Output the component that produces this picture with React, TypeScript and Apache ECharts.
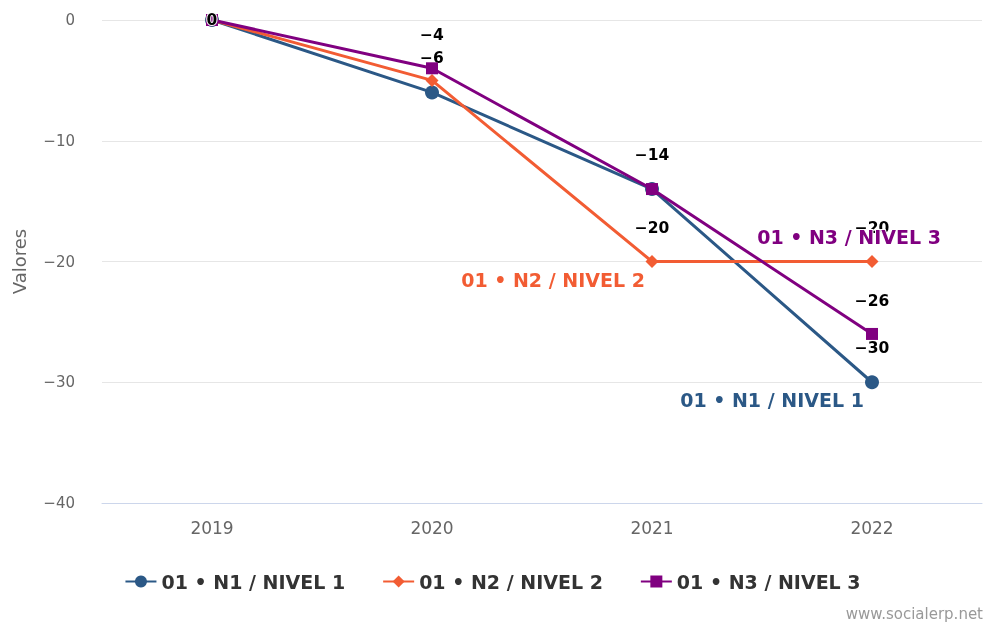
import React, { useEffect, useRef } from "react";
import * as echarts from "echarts";

const categories = ["2019", "2020", "2021", "2022"];
const seriesNames = ["01 • N1 / NIVEL 1", "01 • N2 / NIVEL 2", "01 • N3 / NIVEL 3"];
const n1Values = [0, -6, -14, -30];
const n2Values = [0, -5, -20, -20];
const n3Values = [0, -4, -14, -26];
const yTicks = { min: -40, max: 0, interval: 10 };

const COLORS = ["#2b5886", "#f25c33", "#800080"];
const SYMBOLS = ["circle", "diamond", "rect"];
const SIZES = [14, 13, 12];
// which data labels are visible (others overlap in the original)
const LABEL_SHOWN = [
  [false, true, true, true],
  [false, false, true, true],
  [true, true, false, true],
];
// series-name label anchors: point index and offset
const NAME_ANCHOR = [
  { idx: 3, offset: [-100, 18] },
  { idx: 2, offset: [-99, 18] },
  { idx: 3, offset: [-23, -97] },
];

const FONT = "DejaVu Sans, Verdana, sans-serif";
const minus = (v: number | string) => String(v).replace("-", "\u2212");

export default function App() {
  const ref = useRef<HTMLDivElement>(null);
  useEffect(() => {
    if (!ref.current) return;
    const chart = echarts.init(ref.current, null, { renderer: "svg" });
    const all = [n1Values, n2Values, n3Values];
    const series = all.map((vals, s) => ({
      name: seriesNames[s],
      type: "line",
      symbol: SYMBOLS[s],
      symbolSize: SIZES[s],
      showAllSymbol: true,
      lineStyle: { width: 3, color: COLORS[s] },
      itemStyle: { color: COLORS[s] },
      z: 2 + s,
      labelLayout: { hideOverlap: false },
      data: vals.map((v, i) => ({
        value: v,
        label: {
          show: LABEL_SHOWN[s][i],
          position: i === 0 ? "inside" : "top",
          distance: 19,
          formatter: (p: any) => minus(p.value),
          color: "#000",
          fontWeight: "bold",
          fontSize: 15.5,
          fontFamily: FONT,
          textBorderColor: "#fff",
          textBorderWidth: 2,
        },
      })),
      markPoint: {
        symbol: "circle",
        symbolSize: 0,
        silent: true,
        data: [
          {
            coord: [categories[NAME_ANCHOR[s].idx], vals[NAME_ANCHOR[s].idx]],
            label: {
              show: true,
              position: "inside",
              offset: NAME_ANCHOR[s].offset,
              formatter: seriesNames[s],
              color: COLORS[s],
              fontWeight: "bold",
              fontSize: 19,
              fontFamily: FONT,
              textBorderColor: "#fff",
              textBorderWidth: 2,
            },
          },
        ],
      },
    }));
    chart.setOption({
      animation: false,
      textStyle: { fontFamily: FONT },
      grid: { left: 102, right: 3, top: 20, bottom: 119, containLabel: false },
      xAxis: {
        type: "category",
        data: categories,
        boundaryGap: true,
        axisLine: { onZero: false, lineStyle: { color: "#ccd6eb", width: 1 } },
        axisTick: { show: false },
        axisLabel: { color: "#666", fontSize: 17, margin: 16, fontFamily: FONT },
      },
      yAxis: {
        type: "value",
        min: yTicks.min,
        max: yTicks.max,
        interval: yTicks.interval,
        name: "Valores",
        nameLocation: "middle",
        nameGap: 74,
        nameTextStyle: { color: "#666", fontSize: 18, fontFamily: FONT },
        axisLine: { show: false },
        axisTick: { show: false },
        axisLabel: {
          color: "#666",
          fontSize: 15,
          margin: 27,
          fontFamily: FONT,
          formatter: (v: number) => minus(v),
        },
        splitLine: { lineStyle: { color: "#e6e6e6", width: 1 } },
      },
      legend: {
        top: 567,
        left: "center",
        itemWidth: 31,
        itemHeight: 15,
        itemGap: 37,
        textStyle: { color: "#333", fontSize: 19, fontWeight: "bold", fontFamily: FONT },
        data: seriesNames,
      },
      graphic: [
        {
          type: "text",
          right: 2,
          bottom: 1,
          style: { text: "www.socialerp.net", fill: "#999", fontSize: 15, fontFamily: FONT },
        },
      ],
      series,
    });
    return () => chart.dispose();
  }, []);
  return (
    <div
      ref={ref}
      style={{ position: "fixed", left: 0, top: 0, width: 985, height: 622 }}
    />
  );
}
